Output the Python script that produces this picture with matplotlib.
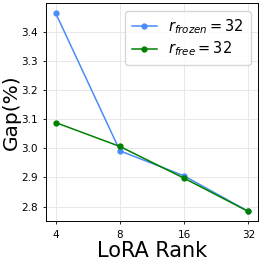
import matplotlib
matplotlib.use("Agg")
import matplotlib.pyplot as plt

ranks = ["4", "8", "16", "32"]
gap_frozen = [3.463, 2.991, 2.905, 2.783]
gap_free = [3.088, 3.006, 2.897, 2.783]

fig = plt.figure(figsize=(2.62, 2.62), dpi=100)
ax = fig.add_axes([0.176, 0.155, 0.809, 0.832])

x = range(len(ranks))
ax.plot(x, gap_frozen, "o-", color="#4a8cf7", markersize=3.5, linewidth=1.1,
        label=r"$r_{frozen} = 32$")
ax.plot(x, gap_free, "o-", color="green", markersize=3.5, linewidth=1.1,
        label=r"$r_{free} = 32$")

ax.set_xticks(list(x))
ax.set_xticklabels(ranks)
ax.tick_params(labelsize=7.5, length=2.5, width=0.6)
ax.set_xlabel("LoRA Rank", fontsize=15, labelpad=1)
ax.set_ylabel("Gap(%)", fontsize=14.5, labelpad=0.5)
ax.grid(True, color="#e8e8e8", linewidth=0.7)
for s in ax.spines.values():
    s.set_linewidth(0.7)
ax.legend(loc="upper right", fontsize=10.5, handlelength=1.7, borderpad=0.45,
          labelspacing=0.25, handletextpad=0.8)

fig.savefig("out.png", dpi=100)
